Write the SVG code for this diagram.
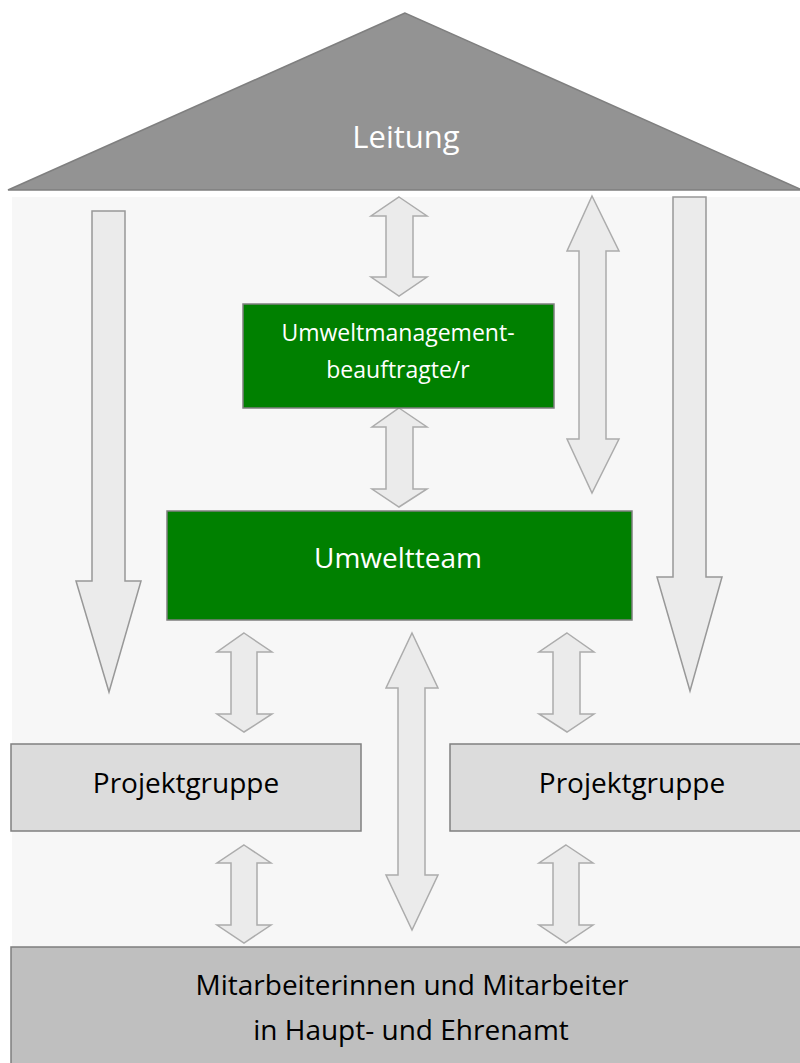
<svg xmlns="http://www.w3.org/2000/svg" width="800" height="1063" viewBox="0 0 800 1063">
<style>
text{font-family:"Open Sans","Liberation Sans",sans-serif;text-anchor:middle}
.arr{fill:#ebebeb;stroke:#acacac;stroke-width:1.5;stroke-linejoin:miter}
.big{fill:#ebebeb;stroke:#989898;stroke-width:1.5}
.green{fill:#008000;stroke:#7f7f7f;stroke-width:1.5}
.wt{fill:#ffffff}
.pg{fill:#dcdcdc;stroke:#808080;stroke-width:1.5}
.dk{fill:#000000}
</style>
<rect width="800" height="1063" fill="#ffffff"/>
<rect id="panel" x="12" y="197" width="788" height="866" fill="#f7f7f7"/>
<g id="leitung">
<polygon points="405,13 8,190 800,190 800,189" fill="#939393" stroke="#7f7f7f" stroke-width="1.5"/>
<text x="406" y="148" font-size="31" class="wt">Leitung</text>
</g>
<g id="connectors">
<polygon class="big" points="92,211 125,211 125,581 141,581 109,692 76,581 92,581"/>
<polygon class="big" points="673,197 706,197 706,577 722,577 690,691 657,577 673,577"/>
<polygon class="arr" points="592,196 619,251 606,251 606,439 619,439 592,493 567,439 579,439 579,251 567,251"/>
<polygon class="arr" points="399,197 427,216 413,216 413,277 427,277 399,296 371,277 386,277 386,216 371,216"/>
<polygon class="arr" points="399,408 427,427 413,427 413,489 427,489 399,507 372,489 386,489 386,427 372,427"/>
<polygon class="arr" points="244,633 272,652 257,652 257,714 272,714 244,732 217,714 231,714 231,652 217,652"/>
<polygon class="arr" points="567,633 594,652 580,652 580,714 594,714 567,732 539,714 553,714 553,652 539,652"/>
<polygon class="arr" points="412,633 438,688 425,688 425,875 438,875 412,930 386,875 398,875 398,688 386,688"/>
<polygon class="arr" points="244,845 271,863 257,863 257,925 271,925 244,943 217,925 231,925 231,863 217,863"/>
<polygon class="arr" points="566,845 593,863 579,863 579,925 593,925 566,943 539,925 553,925 553,863 539,863"/>
</g>
<g id="umb">
<rect class="green" x="243" y="304" width="311" height="104"/>
<text x="398" y="341" font-size="23" class="wt">Umweltmanagement-</text>
<text x="398" y="378" font-size="23" class="wt">beauftragte/r</text>
</g>
<g id="umweltteam">
<rect class="green" x="167" y="511" width="465" height="109"/>
<text x="398" y="568" font-size="28" class="wt">Umweltteam</text>
</g>
<g id="projektgruppe1">
<rect class="pg" x="11" y="744" width="350" height="87"/>
<text x="186" y="793" font-size="28" class="dk">Projektgruppe</text>
</g>
<g id="projektgruppe2">
<rect class="pg" x="450" y="744" width="360" height="87"/>
<text x="632" y="793" font-size="28" class="dk">Projektgruppe</text>
</g>
<g id="mitarbeiter">
<rect x="11" y="947" width="800" height="130" fill="#bfbfbf" stroke="#7f7f7f" stroke-width="1.5"/>
<text x="412" y="995" font-size="28" class="dk">Mitarbeiterinnen und Mitarbeiter</text>
<text x="411" y="1040" font-size="28" class="dk">in Haupt- und Ehrenamt</text>
</g>
</svg>
